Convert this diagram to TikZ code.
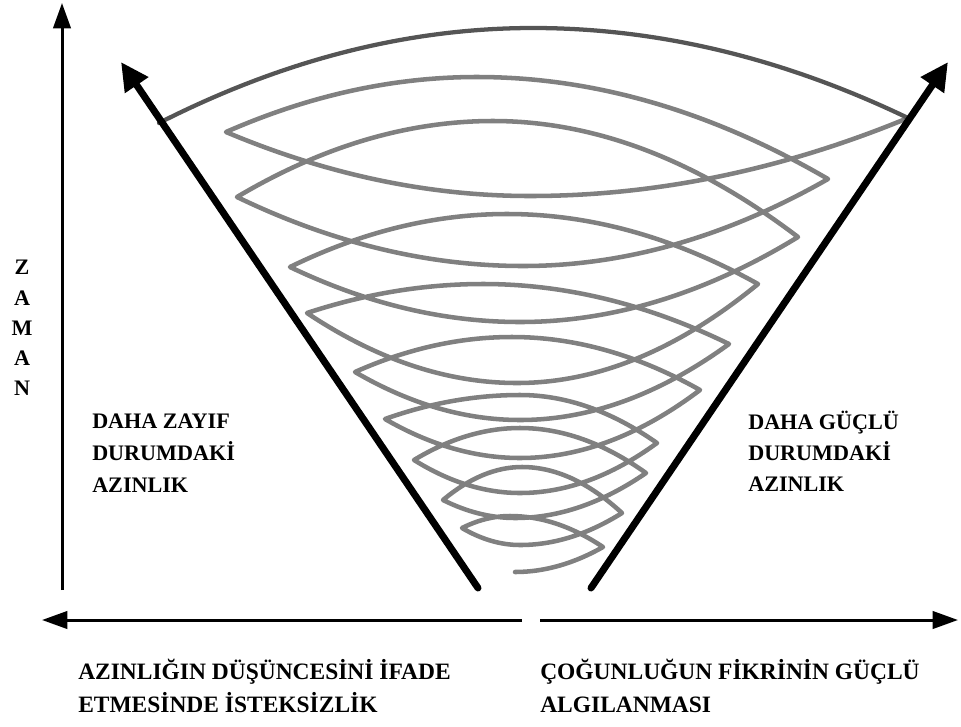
\documentclass[tikz,border=0pt]{standalone}
\usepackage{fontspec}
\setmainfont{Liberation Serif}
\usetikzlibrary{arrows.meta,calc}
\definecolor{spiralgray}{RGB}{128,128,128}
\definecolor{arcdark}{RGB}{85,85,85}
\begin{document}
\begin{tikzpicture}[x=0.75pt,y=-0.75pt,
  axis/.style={line width=2.25pt,-{Triangle[length=19pt,width=13pt]}},
  diag/.style={line width=5.25pt,line cap=round,-{Triangle[length=21pt,width=20pt]}},
  spiral/.style={draw=spiralgray,line width=3.4pt,line cap=round,line join=round},
  toparc/.style={draw=arcdark,line width=3.2pt,line cap=round},
  lbl/.style={font=\bfseries\fontsize{16.6}{24}\selectfont,inner sep=0pt,anchor=base west},
  blbl/.style={font=\bfseries\fontsize{17.6}{24}\selectfont,inner sep=0pt,anchor=base west},
  zlbl/.style={font=\bfseries\fontsize{16.6}{24}\selectfont,inner sep=0pt,anchor=base},
  toext/.style={to path={let \p1=(\tikztostart), \p2=(\tikztotarget) in
     .. controls ({\x1+(\x2-\x1)/3},{\y1+2*(\y2-\y1)/3}) and ({\x2-(\x2-\x1)/3},{\y2}) .. (\tikztotarget)}},
  fromext/.style={to path={let \p1=(\tikztostart), \p2=(\tikztotarget) in
     .. controls ({\x1+(\x2-\x1)/3},{\y1}) and ({\x2-(\x2-\x1)/3},{\y2+2*(\y1-\y2)/3}) .. (\tikztotarget)}}
]
\useasboundingbox (0,0) rectangle (961,726);

% axes
\coordinate (vb) at (62,590);
\coordinate (vt) at (62,3);
\coordinate (hlS) at (522,620);
\coordinate (hlE) at (42,620);
\coordinate (hrS) at (540,620);
\coordinate (hrE) at (958,620);
\draw[axis] (vb) -- (vt);
\draw[axis] (hlS) -- (hlE);
\draw[axis] (hrS) -- (hrE);

% spiral points
\coordinate (T) at (515,572);
\coordinate (R1) at (603,547);  \coordinate (U1) at (510,516);  \coordinate (L1) at (462,528);  \coordinate (D1) at (520,545);
\coordinate (R2) at (622,513);  \coordinate (U2) at (522,467);  \coordinate (L2) at (443,500);  \coordinate (D2) at (515,518);
\coordinate (R3) at (646,473);  \coordinate (U3) at (520,428);  \coordinate (L3) at (414,460);  \coordinate (D3) at (520,493);
\coordinate (R4) at (657,443);  \coordinate (U4) at (520,395);  \coordinate (L4) at (385,419);  \coordinate (D4) at (520,458);
\coordinate (R5) at (700,390);  \coordinate (U5) at (512,337);  \coordinate (L5) at (355,372);  \coordinate (D5) at (520,420);
\coordinate (R6) at (729,344);  \coordinate (U6) at (483,284);  \coordinate (L6) at (307,313);  \coordinate (D6) at (517,383);
\coordinate (R7) at (758,284);  \coordinate (U7) at (507,214);  \coordinate (L7) at (290,267);  \coordinate (D7) at (520,322);
\coordinate (R8) at (798,237);  \coordinate (U8) at (493,121);  \coordinate (L8) at (237,197);  \coordinate (D8) at (523,266);
\coordinate (R9) at (828,179);  \coordinate (U9) at (477,77);   \coordinate (L9) at (226,132);  \coordinate (D9) at (530,196);
\coordinate (R10) at (908,118); \coordinate (U10) at (533,28);  \coordinate (L10) at (159,123);

\draw[spiral] (T) to[fromext] (R1)
  to[toext] (U1) to[fromext] (L1) to[toext] (D1) to[fromext] (R2)
  to[toext] (U2) to[fromext] (L2) to[toext] (D2) to[fromext] (R3)
  to[toext] (U3) to[fromext] (L3) to[toext] (D3) to[fromext] (R4)
  to[toext] (U4) to[fromext] (L4) to[toext] (D4) to[fromext] (R5)
  to[toext] (U5) to[fromext] (L5) to[toext] (D5) to[fromext] (R6)
  to[toext] (U6) to[fromext] (L6) to[toext] (D6) to[fromext] (R7)
  to[toext] (U7) to[fromext] (L7) to[toext] (D7) to[fromext] (R8)
  to[toext] (U8) to[fromext] (L8) to[toext] (D8) to[fromext] (R9)
  to[toext] (U9) to[fromext] (L9) to[toext] (D9) to[fromext] (R10);
\draw[toparc] (R10) to[toext] (U10) to[fromext] (L10);

% diagonal arrows
\coordinate (dlS) at (478,588);
\coordinate (dlE) at (121,62);
\coordinate (drS) at (591,588);
\coordinate (drE) at (948,62);
\draw[diag] (dlS) -- (dlE);
\draw[diag] (drS) -- (drE);

% labels
\node[zlbl] (z1) at (22,274) {Z};
\node[zlbl] (z2) at (22,305) {A};
\node[zlbl] (z3) at (22,335) {M};
\node[zlbl] (z4) at (22,365) {A};
\node[zlbl] (z5) at (22,395) {N};

\node[lbl] (wl1) at (92,428) {DAHA ZAYIF};
\node[lbl] (wl2) at (92,460) {DURUMDAKİ};
\node[lbl] (wl3) at (92,492) {AZINLIK};

\node[lbl] (sl1) at (748,429) {DAHA GÜÇLÜ};
\node[lbl] (sl2) at (748,460) {DURUMDAKİ};
\node[lbl] (sl3) at (748,491) {AZINLIK};

\node[blbl] (bl1) at (78,679) {AZINLIĞIN DÜŞÜNCESİNİ İFADE};
\node[blbl] (bl2) at (78,712) {ETMESİNDE İSTEKSİZLİK};
\node[blbl] (br1) at (540,679) {ÇOĞUNLUĞUN FİKRİNİN GÜÇLÜ};
\node[blbl] (br2) at (540,712) {ALGILANMASI};
\end{tikzpicture}
\end{document}
